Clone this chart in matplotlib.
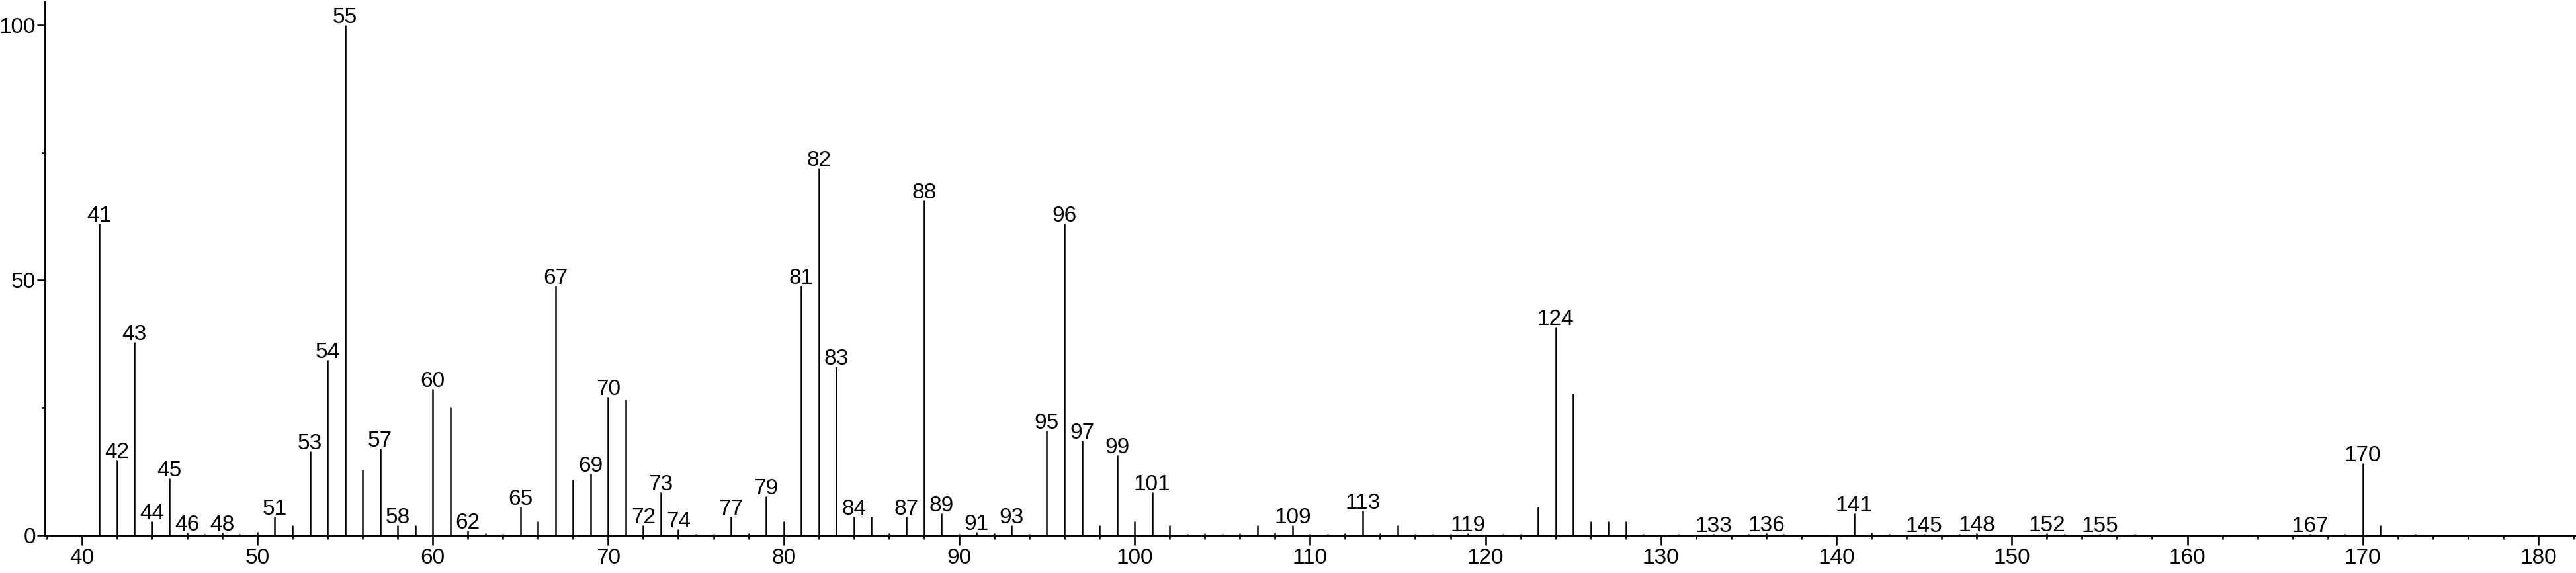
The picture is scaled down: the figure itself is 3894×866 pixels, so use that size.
import matplotlib
matplotlib.use("Agg")
import matplotlib.pyplot as plt
from matplotlib.ticker import MultipleLocator, FixedLocator

plt.rcParams['font.family'] = ['Liberation Sans', 'DejaVu Sans']

# m/z values and relative intensities (%)
mz = [41, 42, 43, 44, 45, 46, 47, 48, 49, 50,
      51, 52, 53, 54, 55, 56, 57, 58, 59, 60,
      61, 62, 63, 64, 65, 66, 67, 68, 69, 70,
      71, 72, 73, 74, 75, 76, 77, 78, 79, 80,
      81, 82, 83, 84, 85, 86, 87, 88, 89, 90,
      91, 92, 93, 94, 95, 96, 97, 98, 99, 100,
      101, 102, 103, 104, 105, 106, 107, 108, 109, 110,
      111, 112, 113, 114, 115, 116, 117, 118, 119, 121,
      122, 123, 124, 125, 126, 127, 128, 129, 131, 133,
      135, 136, 137, 141, 142, 143, 145, 147, 148, 152,
      153, 155, 157, 167, 169, 170, 171, 173]
intensity = [61.1, 14.8, 37.9, 2.7, 11.2, 0.5, 0.2, 0.5, 0.2, 0.7,
             3.6, 1.9, 16.5, 34.4, 100.0, 12.9, 17.0, 1.9, 1.9, 28.6,
             25.1, 0.9, 0.4, 0.3, 5.6, 2.7, 48.9, 10.9, 12.0, 27.1,
             26.6, 2.0, 8.4, 1.2, 0.3, 0.3, 3.6, 0.4, 7.7, 2.7,
             48.9, 72.0, 33.1, 3.6, 3.6, 0.4, 3.6, 65.6, 4.3, 0.2,
             0.7, 0.4, 1.9, 0.3, 20.5, 61.1, 18.5, 1.9, 15.7, 2.7,
             8.4, 1.9, 0.3, 0.4, 0.3, 0.4, 1.9, 0.5, 1.9, 0.3,
             0.3, 0.4, 4.8, 0.4, 1.9, 0.3, 0.3, 0.3, 0.4, 0.3,
             0.3, 5.6, 40.8, 27.8, 2.7, 2.7, 2.7, 0.3, 0.3, 0.3,
             0.3, 0.4, 0.3, 4.3, 0.5, 0.3, 0.3, 0.3, 0.4, 0.4,
             0.3, 0.3, 0.3, 0.3, 0.3, 14.1, 2.0, 0.3]

# peaks that carry an m/z label
labeled = [41, 42, 43, 44, 45, 46, 48, 51, 53, 54, 55, 57, 58, 60, 62, 65,
           67, 69, 70, 72, 73, 74, 77, 79, 81, 82, 83, 84, 87, 88, 89, 91,
           93, 95, 96, 97, 99, 101, 109, 113, 119, 124, 133, 136, 141, 145,
           148, 152, 155, 167, 170]

x_ticks = [40, 50, 60, 70, 80, 90, 100, 110, 120, 130, 140, 150, 160, 170, 180]
y_ticks = [0, 50, 100]

W, H = 3894, 866
fig = plt.figure(figsize=(W / 100, H / 100), dpi=100)
ax = fig.add_axes([68 / W, 57 / H, 1 - 68 / W, 806 / H])

ax.vlines(mz, 0, intensity, color='black', lw=1.8)

lookup = dict(zip(mz, intensity))
for m in labeled:
    ax.annotate(str(m), (m, lookup[m]), xytext=(0, 2.2), textcoords='offset points',
                ha='center', va='baseline', fontsize=24, color='black')

ax.set_xlim(37.9, 182.15)
ax.set_ylim(0, 104.5)

ax.xaxis.set_major_locator(FixedLocator(x_ticks))
ax.xaxis.set_minor_locator(MultipleLocator(2))
ax.yaxis.set_major_locator(FixedLocator(y_ticks))
ax.yaxis.set_minor_locator(FixedLocator([25, 75]))

for s in ['top', 'right']:
    ax.spines[s].set_visible(False)
for s in ['left', 'bottom']:
    ax.spines[s].set_linewidth(2.1)
    ax.spines[s].set_color('black')

ax.tick_params(axis='x', which='major', direction='out', length=11, width=1.9,
               labelsize=24, pad=3)
ax.tick_params(axis='x', which='minor', direction='out', length=4.3, width=1.9)
ax.tick_params(axis='y', which='major', direction='out', length=8.5, width=1.9,
               labelsize=24, pad=1.5)
ax.tick_params(axis='y', which='minor', direction='out', length=3.5, width=1.9)

fig.savefig('out.png', dpi=100, facecolor='white')
